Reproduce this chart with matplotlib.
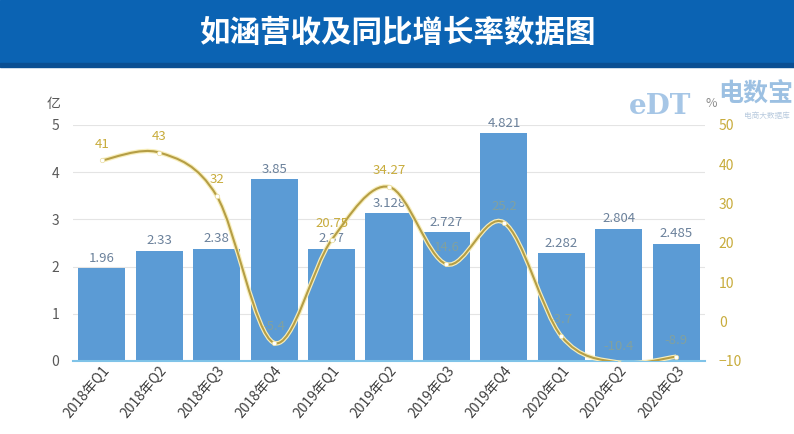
import matplotlib.pyplot as plt
from matplotlib.path import Path
from matplotlib.patches import PathPatch, Rectangle
import numpy as np

plt.rcParams['font.family'] = ['Noto Sans CJK SC', 'DejaVu Sans']

quarters = ['2018年Q1', '2018年Q2', '2018年Q3', '2018年Q4', '2019年Q1', '2019年Q2',
            '2019年Q3', '2019年Q4', '2020年Q1', '2020年Q2', '2020年Q3']
revenue = [1.96, 2.33, 2.38, 3.85, 2.37, 3.128, 2.727, 4.821, 2.282, 2.804, 2.485]
revenue_labels = ['1.96', '2.33', '2.38', '3.85', '2.37', '3.128', '2.727', '4.821', '2.282', '2.804', '2.485']
growth = [41, 43, 32, -5.4, 20.75, 34.27, 14.6, 25.2, -3.7, -10.4, -8.9]
growth_labels = ['41', '43', '32', '-5.4', '20.75', '34.27', '14.6', '25.2', '-3.7', '-10.4', '-8.9']
# labels drawn over the bars look washed out in the original
faded = [False, False, False, True, False, False, True, True, True, True, True]

bar_color = '#5b9bd5'
line_color = '#b59e45'
gold_text = '#c8ac3c'

fig = plt.figure(figsize=(7.94, 4.34), dpi=100)

# title banner
fig.patches.append(Rectangle((0, 1 - 63 / 434), 1, 63 / 434, transform=fig.transFigure,
                             color='#0b63b3', zorder=0))
fig.patches.append(Rectangle((0, 1 - 67 / 434), 1, 4 / 434, transform=fig.transFigure,
                             color='#0a4f93', zorder=0))
fig.text(0.5, 1 - 33 / 434, '如涵营收及同比增长率数据图', color='white', fontsize=22,
         fontweight='heavy', ha='center', va='center')

ax = fig.add_axes([73 / 794, 73 / 434, 632 / 794, 236 / 434])
x = np.arange(len(quarters))
ax.bar(x, revenue, width=0.82, color=bar_color, zorder=2)
for xi, v, lab in zip(x, revenue, revenue_labels):
    ax.text(xi, v + 0.08, lab, ha='center', va='bottom', fontsize=9.5, color='#6b819b', zorder=3)

ax.set_xlim(-0.5, len(quarters) - 0.5)
ax.set_ylim(0, 5)
ax.set_yticks(range(6))
ax.grid(axis='y', color='#e4e4e4', linewidth=0.8, zorder=0)
ax.set_axisbelow(True)
for s in ['top', 'left', 'right']:
    ax.spines[s].set_visible(False)
ax.spines['bottom'].set_color('#7fc3e8')
ax.spines['bottom'].set_linewidth(1.5)
ax.tick_params(axis='y', length=0, labelsize=10, labelcolor='#595959', pad=10)
ax.tick_params(axis='x', length=0, labelsize=10, labelcolor='#404040', pad=2)
ax.set_xticks(x)
ax.set_xticklabels(quarters, rotation=50, ha='right', rotation_mode='anchor')
ax.text(-0.02, 1.09, '亿', transform=ax.transAxes, ha='right', va='center',
        fontsize=10, color='#595959')

ax2 = ax.twinx()
ax2.set_ylim(-10, 50)
ax2.set_yticks(range(-10, 51, 10))
for s in ['top', 'left', 'right', 'bottom']:
    ax2.spines[s].set_visible(False)
ax2.tick_params(axis='y', length=0, labelsize=10, labelcolor=gold_text, pad=10)
ax2.text(1.0, 1.09, '%', transform=ax2.transAxes, ha='left', va='center',
         fontsize=9, color='#8c8c8c')

# smooth curve through the points (Catmull-Rom as cubic Bezier)
pts = np.column_stack([x, growth]).astype(float)
ext = np.vstack([pts[0], pts, pts[-1]])
verts = [tuple(pts[0])]
codes = [Path.MOVETO]
for i in range(len(pts) - 1):
    p0, p1, p2, p3 = ext[i], ext[i + 1], ext[i + 2], ext[i + 3]
    c1 = p1 + (p2 - p0) / 6
    c2 = p2 - (p3 - p1) / 6
    verts += [tuple(c1), tuple(c2), tuple(p2)]
    codes += [Path.CURVE4] * 3
curve = Path(verts, codes)
ax2.add_patch(PathPatch(curve, facecolor='none', edgecolor='#f8eebb', lw=3.2, zorder=3))
ax2.add_patch(PathPatch(curve, facecolor='none', edgecolor=line_color, lw=1.5, zorder=4))
ax2.plot(x, growth, 'o', ms=3.2, mfc='white', mec='#e8dca0', mew=0.5, zorder=5)
for xi, v, lab, f in zip(x, growth, growth_labels, faded):
    ax2.text(xi, v + 2.5, lab, ha='center', va='bottom', fontsize=9.5,
             color=gold_text, alpha=0.35 if f else 1.0, zorder=6)

# watermark
fig.text(718 / 794, 1 - 95 / 434, '电数宝', fontsize=18, color='#5b97cf', alpha=0.6,
         ha='left', va='center', fontweight='bold')
fig.text(744 / 794, 1 - 116 / 434, '电商大数据库', fontsize=5.5, color='#8aa8c8',
         alpha=0.6, ha='left', va='center')
fig.text(660 / 794, 1 - 106 / 434, 'eDT', fontsize=20, color='#4f8fcf', alpha=0.5,
         ha='center', va='center', fontweight='bold', family='DejaVu Serif')

fig.savefig('out.png', dpi=100)
